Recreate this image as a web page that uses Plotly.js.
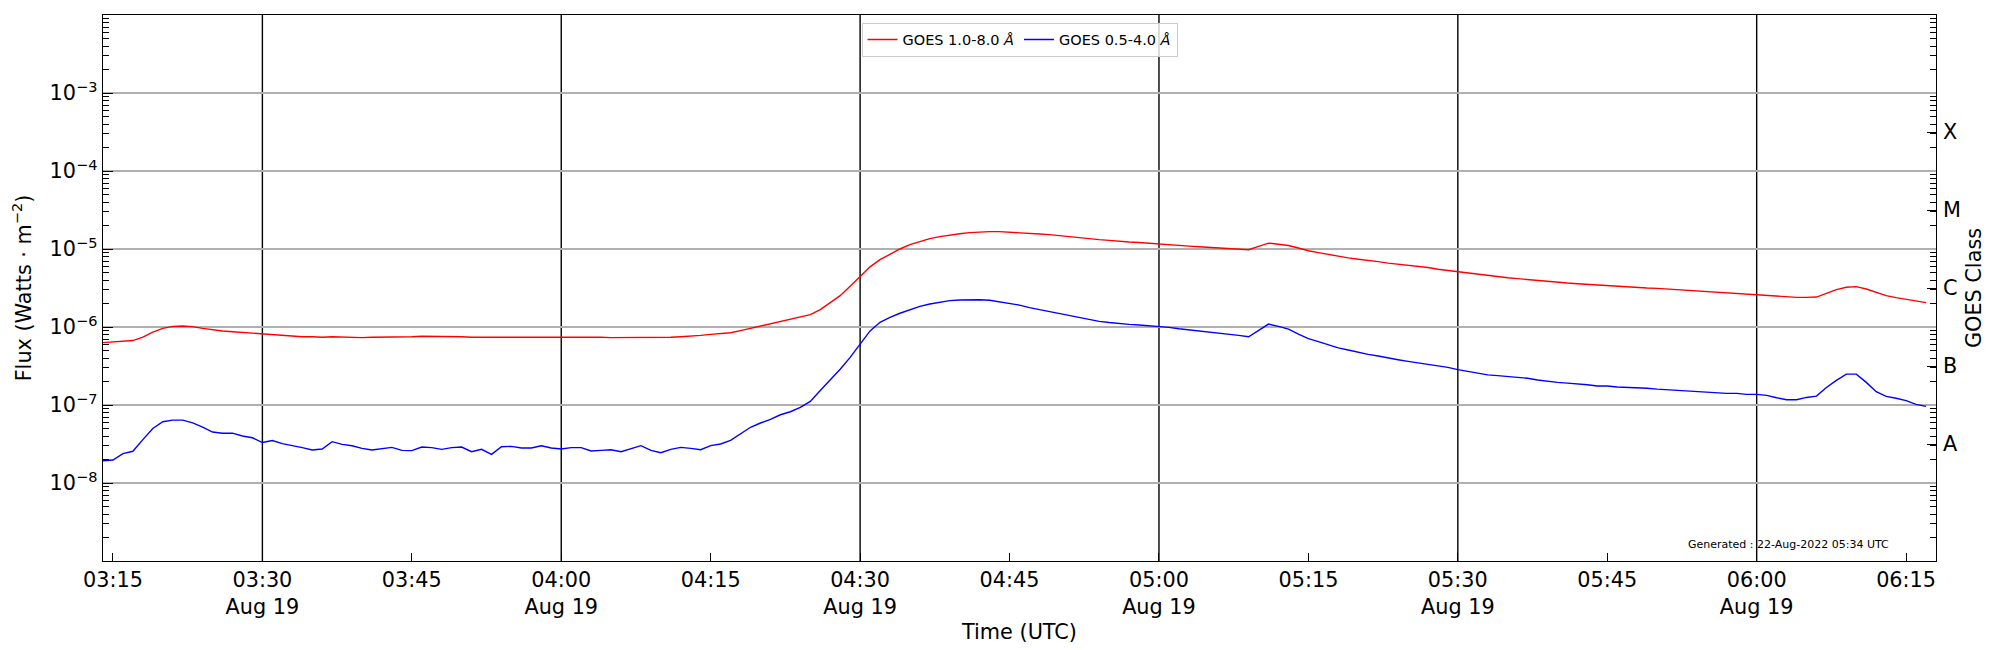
<!DOCTYPE html>
<html>
<head>
<meta charset="utf-8">
<script src="https://cdn.plot.ly/plotly-3.0.1.min.js"></script>
<style>
  body { margin: 0; background: #fff; }
  #chart { width: 2000px; height: 650px; }
</style>
</head>
<body>
<div id="chart"></div>
<script>
//GOES X-ray flux, 19 Aug 2022, 1-minute samples

var day = '2022-08-19 '

var times = [
    '03:14','03:15','03:16','03:17','03:18','03:19','03:20','03:21','03:22','03:23',
    '03:24','03:25','03:26','03:27','03:28','03:29','03:30','03:31','03:32','03:33',
    '03:34','03:35','03:36','03:37','03:38','03:39','03:40','03:41','03:42','03:43',
    '03:44','03:45','03:46','03:47','03:48','03:49','03:50','03:51','03:52','03:53',
    '03:54','03:55','03:56','03:57','03:58','03:59',
    '04:00','04:01','04:02','04:03','04:04','04:05','04:06','04:07','04:08','04:09',
    '04:10','04:11','04:12','04:13','04:14','04:15','04:16','04:17','04:18','04:19',
    '04:20','04:21','04:22','04:23','04:24','04:25','04:26','04:27','04:28','04:29',
    '04:30','04:31','04:32','04:33','04:34','04:35','04:36','04:37','04:38','04:39',
    '04:40','04:41','04:42','04:43','04:44','04:45','04:46','04:47','04:48','04:49',
    '04:50','04:51','04:52','04:53','04:54','04:55','04:56','04:57','04:58','04:59',
    '05:00','05:01','05:02','05:03','05:04','05:05','05:06','05:07','05:08','05:09',
    '05:10','05:11','05:12','05:13','05:14','05:15','05:16','05:17','05:18','05:19',
    '05:20','05:21','05:22','05:23','05:24','05:25','05:26','05:27','05:28','05:29',
    '05:30','05:31','05:32','05:33','05:34','05:35','05:36','05:37','05:38','05:39',
    '05:40','05:41','05:42','05:43','05:44','05:45','05:46','05:47','05:48','05:49',
    '05:50','05:51','05:52','05:53','05:54','05:55','05:56','05:57','05:58','05:59',
    '06:00','06:01','06:02','06:03','06:04','06:05','06:06','06:07','06:08','06:09',
    '06:10','06:11','06:12','06:13','06:14','06:15','06:16','06:17'
]

//1.0-8.0 Angstrom channel
var xrsb = [
    6.3e-7, 6.4e-7, 6.5e-7, 6.7e-7, 7.4e-7, 8.6e-7, 9.6e-7, 1.02e-6, 1.03e-6, 1.01e-6,
    9.6e-7, 9.2e-7, 8.9e-7, 8.7e-7, 8.5e-7, 8.4e-7, 8.1e-7, 7.9e-7, 7.8e-7, 7.6e-7,
    7.5e-7, 7.5e-7, 7.4e-7, 7.5e-7, 7.4e-7, 7.4e-7, 7.3e-7, 7.4e-7, 7.4e-7, 7.4e-7,
    7.4e-7, 7.5e-7, 7.6e-7, 7.6e-7, 7.6e-7, 7.6e-7, 7.5e-7, 7.4e-7, 7.4e-7, 7.4e-7,
    7.4e-7, 7.4e-7, 7.4e-7, 7.4e-7, 7.5e-7, 7.5e-7, 7.5e-7,
    7.5e-7, 7.5e-7, 7.4e-7, 7.4e-7, 7.3e-7, 7.3e-7, 7.4e-7, 7.4e-7, 7.3e-7, 7.3e-7,
    7.4e-7, 7.5e-7, 7.6e-7, 7.8e-7, 8.05e-7, 8.2e-7, 8.45e-7, 9.0e-7, 9.6e-7, 1.04e-6,
    1.09e-6, 1.18e-6, 1.24e-6, 1.32e-6, 1.44e-6, 1.67e-6, 2.03e-6, 2.52e-6, 3.32e-6, 4.4e-6,
    5.9e-6, 7.3e-6, 8.6e-6, 1.0e-5, 1.14e-5, 1.25e-5, 1.36e-5, 1.44e-5, 1.51e-5, 1.57e-5,
    1.62e-5, 1.65e-5, 1.67e-5, 1.67e-5, 1.65e-5, 1.63e-5,
    1.59e-5, 1.56e-5, 1.53e-5, 1.48e-5, 1.44e-5, 1.40e-5, 1.36e-5, 1.32e-5, 1.29e-5, 1.25e-5,
    1.23e-5, 1.21e-5, 1.18e-5, 1.16e-5, 1.14e-5, 1.11e-5, 1.09e-5, 1.07e-5, 1.05e-5, 1.03e-5,
    1.01e-5, 9.9e-6, 9.8e-6, 1.08e-5, 1.19e-5, 1.15e-5, 1.11e-5, 1.03e-5, 9.5e-6, 8.97e-6,
    8.5e-6, 8.1e-6, 7.7e-6, 7.4e-6, 7.2e-6, 6.9e-6, 6.6e-6, 6.4e-6, 6.2e-6, 5.9e-6,
    5.8e-6, 5.5e-6, 5.3e-6, 5.07e-6, 4.9e-6, 4.75e-6,
    4.55e-6, 4.41e-6, 4.28e-6, 4.17e-6, 4.05e-6, 3.96e-6, 3.81e-6, 3.74e-6, 3.66e-6, 3.59e-6,
    3.52e-6, 3.42e-6, 3.36e-6, 3.29e-6, 3.23e-6, 3.19e-6, 3.16e-6, 3.13e-6, 3.07e-6, 3.04e-6,
    2.98e-6, 2.92e-6, 2.86e-6, 2.81e-6, 2.75e-6, 2.73e-6, 2.67e-6, 2.62e-6, 2.57e-6, 2.52e-6,
    2.45e-6, 2.4e-6, 2.4e-6, 2.42e-6, 2.7e-6, 3.01e-6, 3.23e-6, 3.29e-6, 3.07e-6, 2.75e-6,
    2.52e-6, 2.38e-6, 2.26e-6, 2.16e-6, 2.05e-6
]

//0.5-4.0 Angstrom channel
var xrsa = [
    1.93e-8, 1.97e-8, 2.38e-8, 2.55e-8, 3.6e-8, 5.0e-8, 6.1e-8, 6.4e-8, 6.4e-8, 5.9e-8,
    5.2e-8, 4.5e-8, 4.35e-8, 4.35e-8, 4.0e-8, 3.8e-8, 3.3e-8, 3.5e-8, 3.2e-8, 3.04e-8,
    2.84e-8, 2.65e-8, 2.73e-8, 3.39e-8, 3.13e-8, 3.0e-8, 2.78e-8, 2.65e-8, 2.76e-8, 2.86e-8,
    2.62e-8, 2.6e-8, 2.89e-8, 2.84e-8, 2.7e-8, 2.84e-8, 2.89e-8, 2.52e-8, 2.7e-8, 2.33e-8,
    2.92e-8, 2.95e-8, 2.81e-8, 2.81e-8, 3.0e-8, 2.81e-8, 2.73e-8,
    2.84e-8, 2.84e-8, 2.57e-8, 2.62e-8, 2.67e-8, 2.52e-8, 2.76e-8, 3.01e-8, 2.62e-8, 2.45e-8,
    2.7e-8, 2.86e-8, 2.78e-8, 2.67e-8, 3.01e-8, 3.16e-8, 3.52e-8, 4.25e-8, 5.18e-8, 5.88e-8,
    6.55e-8, 7.5e-8, 8.2e-8, 9.3e-8, 1.11e-7, 1.53e-7, 2.09e-7, 2.87e-7, 4.08e-7, 6.1e-7,
    8.9e-7, 1.15e-6, 1.33e-6, 1.5e-6, 1.67e-6, 1.84e-6, 1.97e-6, 2.09e-6, 2.18e-6, 2.22e-6,
    2.24e-6, 2.24e-6, 2.2e-6, 2.11e-6, 2.03e-6, 1.91e-6,
    1.77e-6, 1.67e-6, 1.56e-6, 1.47e-6, 1.38e-6, 1.32e-6, 1.24e-6, 1.18e-6, 1.14e-6, 1.10e-6,
    1.08e-6, 1.06e-6, 1.04e-6, 1.02e-6, 9.9e-7, 9.5e-7, 9.2e-7, 9.0e-7, 8.6e-7, 8.4e-7,
    8.05e-7, 7.8e-7, 7.5e-7, 9.0e-7, 1.09e-6, 1.02e-6, 9.4e-7, 8.1e-7, 7.1e-7, 6.5e-7,
    5.9e-7, 5.4e-7, 5.07e-7, 4.73e-7, 4.46e-7, 4.25e-7, 4.0e-7, 3.81e-7, 3.63e-7, 3.49e-7,
    3.36e-7, 3.19e-7, 3.04e-7, 2.84e-7, 2.7e-7, 2.57e-7,
    2.43e-7, 2.38e-7, 2.33e-7, 2.24e-7, 2.2e-7, 2.09e-7, 2.01e-7, 1.95e-7, 1.91e-7, 1.88e-7,
    1.82e-7, 1.75e-7, 1.75e-7, 1.70e-7, 1.69e-7, 1.65e-7, 1.64e-7, 1.60e-7, 1.57e-7, 1.53e-7,
    1.53e-7, 1.48e-7, 1.47e-7, 1.43e-7, 1.41e-7, 1.41e-7, 1.37e-7, 1.37e-7, 1.33e-7, 1.24e-7,
    1.17e-7, 1.17e-7, 1.25e-7, 1.30e-7, 1.68e-7, 2.07e-7, 2.49e-7, 2.49e-7, 1.95e-7, 1.48e-7,
    1.29e-7, 1.22e-7, 1.14e-7, 1.02e-7, 9.6e-8
]

//Axis ticks
var timeTicks = ['03:15','03:30','03:45','04:00','04:15','04:30','04:45',
                 '05:00','05:15','05:30','05:45','06:00','06:15']
var dateTicks = ['03:30','04:00','04:30','05:00','05:30','06:00']
var dateLabel = 'Aug 19'
var fluxTicks = [1e-8, 1e-7, 1e-6, 1e-5, 1e-4, 1e-3]
var goesClasses = ['A', 'B', 'C', 'M', 'X']
var classCenters = [3.16e-8, 3.16e-7, 3.16e-6, 3.16e-5, 3.16e-4]

var FONT = 'DejaVu Sans, sans-serif'

let xs = times.map(t => day + t)
let tickvals = timeTicks.map(t => day + t)
let ticktext = timeTicks.map(t => dateTicks.includes(t) ? t + '<br>' + dateLabel : t)
let fluxText = fluxTicks.map(v => '10<sup>−' + Math.round(-Math.log10(v)) + '</sup>')

//log minor ticks 2..9 in every decade
let minorVals = []
for(let d = -9; d < -2; d++){
    for(let m = 2; m <= 9; m++){
        minorVals.push(m * Math.pow(10, d))
    }
}

//black vertical lines at the dated ticks
let vlines = dateTicks.map(t => ({
    type: 'line', xref: 'x', yref: 'paper',
    x0: day + t, x1: day + t, y0: 0, y1: 1,
    layer: 'below',
    line: { color: 'black', width: 1.4 }
}))

let lineB = {
    x: xs,
    y: xrsb,
    mode: 'lines',
    name: 'GOES 1.0-8.0 <i>Å</i>',
    line: { color: 'red', width: 1.4 }
}

let lineA = {
    x: xs,
    y: xrsa,
    yaxis: 'y2',
    mode: 'lines',
    name: 'GOES 0.5-4.0 <i>Å</i>',
    line: { color: 'blue', width: 1.4 }
}

let layout = {
    width: 2000,
    height: 650,
    margin: { l: 103, r: 64, t: 15, b: 89 },
    paper_bgcolor: 'white',
    plot_bgcolor: 'white',
    font: { family: FONT, size: 20.8, color: 'black' },
    showlegend: true,
    legend: {
        x: 0.5, xanchor: 'center',
        y: 0.986, yanchor: 'top',
        orientation: 'h',
        font: { family: FONT, size: 14.5, color: 'black' },
        bgcolor: 'rgba(255,255,255,0.8)',
        bordercolor: '#cccccc',
        borderwidth: 1
    },
    xaxis: {
        type: 'date',
        range: [day + '03:14:00', day + '06:18:00'],
        tickmode: 'array',
        tickvals: tickvals,
        ticktext: ticktext,
        ticks: 'inside',
        ticklen: 8,
        tickwidth: 1,
        tickcolor: 'black',
        showgrid: false,
        zeroline: false,
        showline: true,
        mirror: true,
        linecolor: 'black',
        linewidth: 1.3,
        title: { text: 'Time (UTC)', standoff: 6, font: { size: 20.8 } }
    },
    yaxis: {
        type: 'log',
        range: [-9, -2],
        tickmode: 'array',
        tickvals: fluxTicks,
        ticktext: fluxText,
        ticks: 'inside',
        ticklen: 10,
        tickwidth: 1,
        tickcolor: 'black',
        minor: { tickmode: 'array', tickvals: minorVals, ticks: 'inside', ticklen: 6, tickcolor: 'black', showgrid: false },
        showgrid: true,
        gridcolor: '#b0b0b0',
        gridwidth: 1.1,
        zeroline: false,
        showline: true,
        mirror: true,
        linecolor: 'black',
        linewidth: 1.3,
        title: { text: 'Flux (Watts · m<sup>−2</sup>)', standoff: 12, font: { size: 20.8 } }
    },
    yaxis2: {
        type: 'log',
        overlaying: 'y',
        side: 'right',
        range: [-9, -2],
        tickmode: 'array',
        tickvals: classCenters,
        ticktext: goesClasses,
        ticks: 'inside',
        ticklen: 9,
        tickwidth: 1,
        tickcolor: 'black',
        ticklabelstandoff: 6,
        minor: { tickmode: 'array', tickvals: minorVals, ticks: 'inside', ticklen: 6, tickcolor: 'black', showgrid: false },
        showgrid: false,
        zeroline: false,
        showline: false,
        title: { text: 'GOES Class', standoff: 6, font: { size: 20.8 } }
    },
    shapes: vlines,
    annotations: [{
        text: 'Generated : 22-Aug-2022 05:34 UTC',
        xref: 'paper', yref: 'paper',
        x: 0.9755, y: 0.031,
        xanchor: 'right', yanchor: 'middle',
        showarrow: false,
        font: { family: FONT, size: 11, color: 'black' }
    }]
}

Plotly.newPlot('chart', [lineB, lineA], layout, { displayModeBar: false, staticPlot: true })
</script>
</body>
</html>
